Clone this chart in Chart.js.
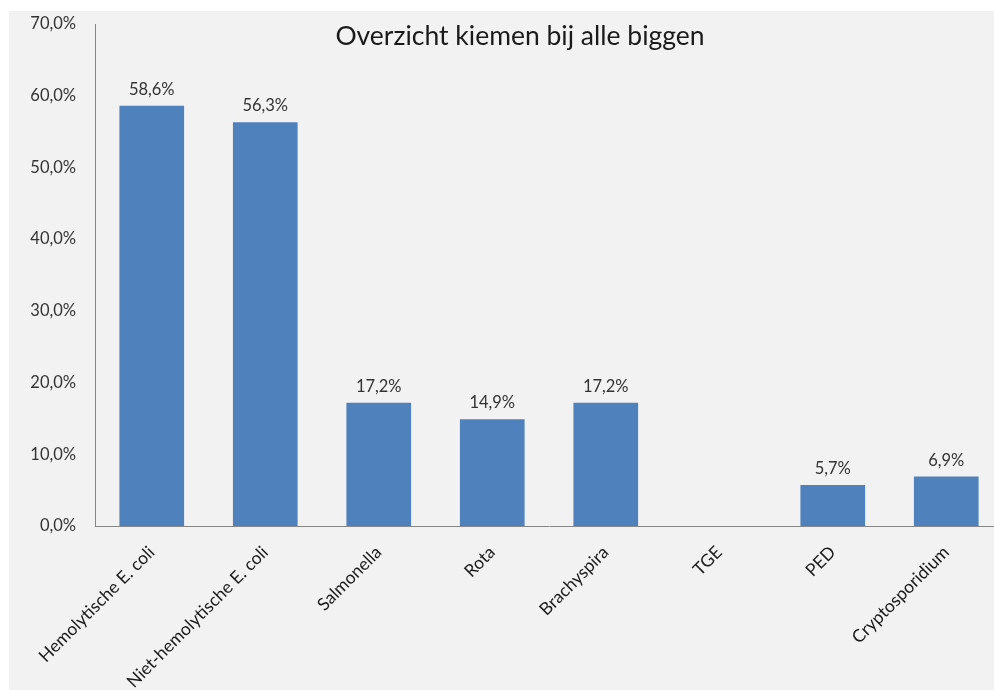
<!DOCTYPE html>
<html>
<head>
<meta charset="utf-8">
<script src="https://cdn.jsdelivr.net/npm/chart.js@4"></script>
<style>
    html, body { margin: 0; padding: 0; background: #ffffff; overflow: hidden; }
    #panel {
        position: absolute;
        left: 9px;
        top: 11px;
        width: 1000px;
        height: 679px;
        background: #f2f2f2;
    }
    #title {
        position: absolute;
        left: 311px;
        top: 8px;
        width: 400px;
        text-align: center;
        font-family: Lato, sans-serif;
        font-size: 26.5px;
        color: #1a1a1a;
        white-space: nowrap;
    }
</style>
</head>
<body>
<div id="panel">
    <canvas id="kiemenChart"></canvas>
    <div id="title">Overzicht kiemen bij alle biggen</div>
</div>
<script>
const categories = [
    'Hemolytische E. coli',
    'Niet-hemolytische E. coli',
    'Salmonella',
    'Rota',
    'Brachyspira',
    'TGE',
    'PED',
    'Cryptosporidium'
];
const percentages = [58.6, 56.3, 17.2, 14.9, 17.2, 0, 5.7, 6.9];
const yTicks = [0, 10, 20, 30, 40, 50, 60, 70];

const fmtPct = v => v.toFixed(1).replace('.', ',') + '%';

// value labels above each bar (zero bars get none)
const barLabels = {
    id: 'barLabels',
    afterDatasetsDraw(chart) {
        const ctx = chart.ctx;
        const meta = chart.getDatasetMeta(0);
        ctx.save();
        ctx.font = '16.5px Lato, sans-serif';
        ctx.fillStyle = '#333333';
        ctx.textAlign = 'center';
        ctx.textBaseline = 'bottom';
        meta.data.forEach((bar, i) => {
            const v = percentages[i];
            if (!v) return;
            ctx.fillText(fmtPct(v), bar.x, bar.y - 8);
        });
        ctx.restore();
    }
};

new Chart(document.getElementById('kiemenChart'), {
    type: 'bar',
    data: {
        labels: categories,
        datasets: [{
            data: percentages,
            backgroundColor: '#4f81bd',
            barPercentage: 0.57,
            categoryPercentage: 1
        }]
    },
    options: {
        responsive: true,
        maintainAspectRatio: false,
        animation: false,
        layout: { padding: { top: 0, right: 6, left: 0, bottom: 0 } },
        plugins: {
            legend: { display: false },
            tooltip: { enabled: false }
        },
        scales: {
            x: {
                grid: { display: false },
                border: { display: true, color: '#868686', width: 1 },
                ticks: {
                    color: '#1a1a1a',
                    font: { family: 'Lato, sans-serif', size: 17.5 },
                    minRotation: 45,
                    maxRotation: 45,
                    autoSkip: false,
                    padding: 8
                },
                afterFit: s => { s.height = 164; }
            },
            y: {
                min: 0,
                max: 70,
                grid: { display: false },
                border: { display: true, color: '#868686', width: 1 },
                afterBuildTicks: s => { s.ticks = yTicks.map(v => ({ value: v })); },
                ticks: {
                    color: '#333333',
                    font: { family: 'Lato, sans-serif', size: 16.5 },
                    padding: 11,
                    callback: v => fmtPct(v)
                },
                afterFit: s => { s.width = 86; s.paddingTop = 13; }
            }
        }
    },
    plugins: [barLabels]
});
</script>
</body>
</html>
